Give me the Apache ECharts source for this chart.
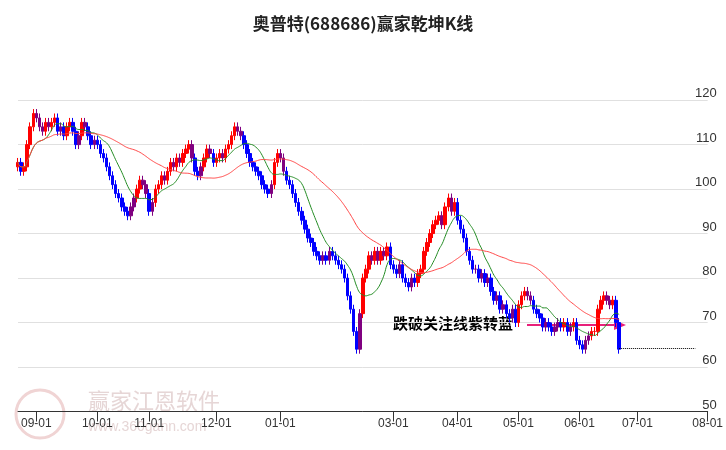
<!DOCTYPE html>
<html>
<head>
<meta charset="utf-8">
<script src="https://cdn.jsdelivr.net/npm/echarts@6/dist/echarts.min.js"></script>
<style>html,body{margin:0;padding:0;background:#fff}#main{width:726px;height:450px}</style>
</head>
<body>
<div id="main"></div>
<script>
// 收盘价, 按月
var closeAug = [106,104,105,110,114,117];
var closeSep = [116,114,113,115,114,115,116,113,114,112,114,115,113,110,112,115,114,112,110,111];
var closeOct = [110,108,107,105,103,101,99,98,96,95,94,96,98,100,102,101,99];
var closeNov = [95,97,100,101,103,102,104,106,105,107,106,108,109,110,107,104,103,105,107,109,108,106];
var closeDec = [107,108,107,109,110,112,114,113,112,110,108,106,105,104,103,101,100,99,101,106,108];
var closeJan = [107,104,102,101,99,97,95,93,91,89,88,86,85,84,85,84,86,85,84,83,82,80];
var closeFeb = [76,73,68,64,72,80,82,85,84,86,84,86,85,87,83];
var closeMar = [82,81,83,80,79,78,80,79,81,82,86,88,90,92,93,94,92,96,98,95,97];
var closeApr = [93,91,89,86,84,82,82,80,81,79,80,77,75,76,73,74,72,71,73,70];
var closeMay = [74,76,77,76,75,73,72,71,69,70,69,68,69,70,69,70,68,69,70,66];
var closeJun = [65,64,66,67,68,68,73,75,76,75,74,75,70,64];
var noteText = '跌破关注线紫转蓝';

var closes = [].concat(closeAug,closeSep,closeOct,closeNov,closeDec,closeJan,closeFeb,closeMar,closeApr,closeMay,closeJun);

// 交易日
var holidays = ['2023-09-29','2023-10-02','2023-10-03','2023-10-04','2023-10-05','2023-10-06','2024-01-01',
  '2024-02-09','2024-02-12','2024-02-13','2024-02-14','2024-02-15','2024-02-16','2024-04-04','2024-04-05',
  '2024-05-01','2024-05-02','2024-05-03','2024-06-10'];
var dates = [];
var d = new Date(Date.UTC(2023,7,24));
while (d <= new Date(Date.UTC(2024,7,1))) {
  var s = d.toISOString().slice(0,10);
  var wd = d.getUTCDay();
  if (wd != 0 && wd != 6 && holidays.indexOf(s) < 0) dates.push(s);
  d.setUTCDate(d.getUTCDate()+1);
}
var firstOfMonth = {};
for (var i=1;i<dates.length;i++) {
  if (dates[i].slice(5,7) != dates[i-1].slice(5,7)) firstOfMonth[i] = dates[i].slice(5,7)+'-01';
}
function showTick(idx){ return !!firstOfMonth[idx] && firstOfMonth[idx] != '02-01'; }

function ma(n){
  var out=[];
  for (var i=0;i<closes.length;i++){
    var st=Math.max(0,i-n+1), sum=0;
    for (var j=st;j<=i;j++) sum+=closes[j];
    out.push(+(sum/(i-st+1)).toFixed(2));
  }
  return out;
}
var ma10 = ma(10), ma36 = ma(36);

var kdata = [];
for (var i=0;i<closes.length;i++){
  var o = i==0 ? closes[0]-1 : closes[i-1];
  var c = closes[i];
  var col;
  if (c>=o && c>=ma10[i]) col='#ff0000';
  else if (c<o && c<ma10[i]) col='#0000ff';
  else col='#800080';
  kdata.push({value:[o,c,Math.min(o,c)-1,Math.max(o,c)+1],
    itemStyle:{color:col,color0:col,borderColor:col,borderColor0:col}});
}
var last = closes.length-1;

var chart = echarts.init(document.getElementById('main'));
chart.setOption({
  animation:false,
  title:{text:'奥普特(688686)赢家乾坤K线',left:'center',top:10,
    textStyle:{fontSize:17,fontWeight:'bold',color:'#222',fontFamily:'Noto Sans CJK SC'}},
  grid:{left:18,right:16,top:69,bottom:38.5},
  xAxis:{type:'category',data:dates,boundaryGap:false,
    axisLine:{lineStyle:{color:'#333'}},
    axisTick:{interval:function(idx){return showTick(idx);},length:10,lineStyle:{color:'#333'}},
    axisLabel:{interval:function(idx){return showTick(idx);},formatter:function(v,idx){return firstOfMonth[idx]||'';},
      color:'#333',fontSize:12,margin:6,fontFamily:'Liberation Sans'},
    splitLine:{show:false}},
  yAxis:{type:'value',position:'right',min:50,max:127,interval:10,
    axisLine:{show:false},axisTick:{show:false},
    axisLabel:{inside:true,margin:-9,verticalAlign:'bottom',color:'#333',fontSize:13,fontFamily:'Liberation Sans',
      formatter:function(v){return v%10==0?v:'';}},
    splitLine:{showMaxLine:false,lineStyle:{color:'#e0e0e0'}}},
  series:[
    {type:'candlestick',data:kdata,barWidth:3,
      markLine:{symbol:'none',silent:true,label:{show:false},
        lineStyle:{color:'#000',type:'dotted',width:1},
        data:[[{coord:[last,64.2]},{coord:[222,64.2]}]]}},
    {type:'line',data:ma10,smooth:true,showSymbol:false,lineStyle:{color:'#228b22',width:1}},
    {type:'line',data:ma36,smooth:true,showSymbol:false,lineStyle:{color:'#ff4040',width:1}}
  ],
  graphic:[
    {type:'text',left:88,top:390,z:-1,style:{text:'赢家江恩软件',font:'22px "Noto Sans CJK SC"',fill:'#e6d6d6'}},
    {type:'text',left:88,top:420,z:-1,style:{text:'www.360gann.com',font:'14px "Liberation Sans"',fill:'#e6d6d6'}},
    {type:'circle',shape:{cx:40,cy:414,r:24},z:-1,style:{fill:'none',stroke:'#f0d4d4',lineWidth:3}},
    {type:'text',left:393,top:316,style:{text:noteText,font:'bold 15px "Noto Sans CJK SC"',fill:'#000'}},
    {type:'line',shape:{x1:527,y1:325,x2:615,y2:325},style:{stroke:'#e8207a',lineWidth:2}},
    {type:'polygon',shape:{points:[[626,325],[614,320],[614,330]]},style:{fill:'#e8207a'}}
  ]
});
</script>
</body>
</html>
